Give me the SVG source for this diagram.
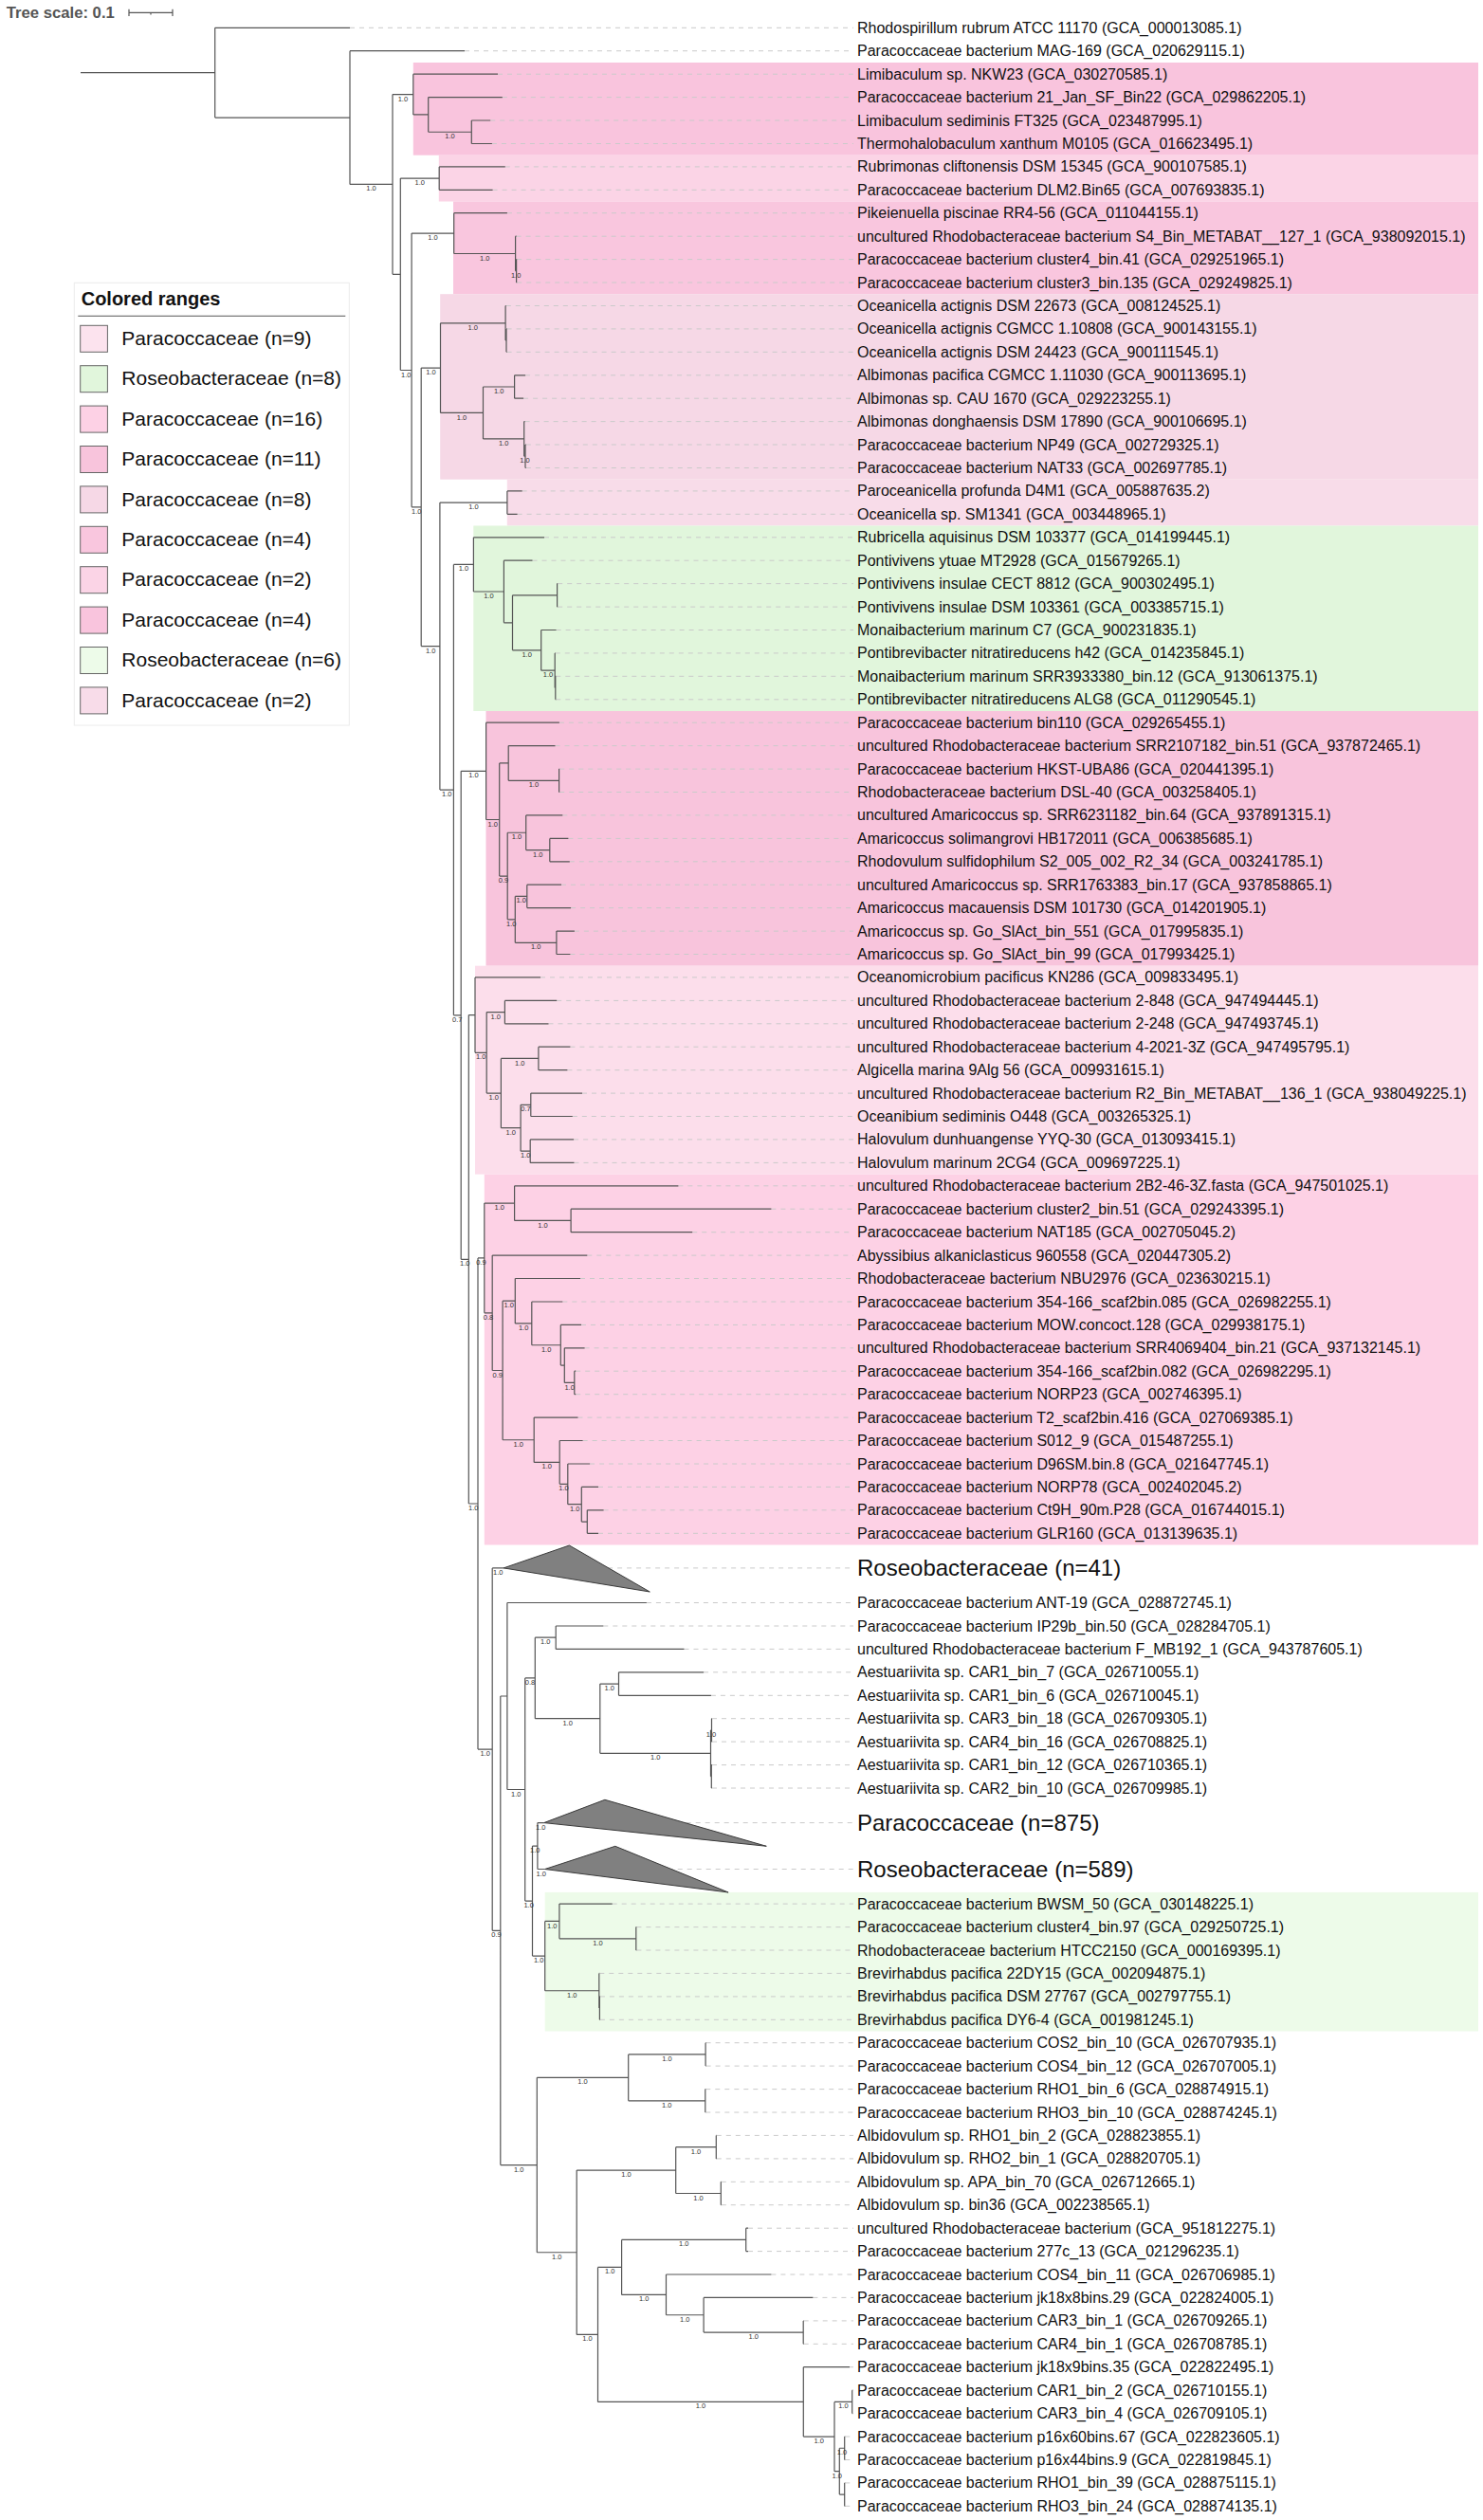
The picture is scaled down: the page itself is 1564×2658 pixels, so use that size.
<svg xmlns="http://www.w3.org/2000/svg" width="1564" height="2658" viewBox="0 0 1564 2658">
<style>
.br{fill:none;stroke:#555;stroke-width:1.2}
.dl{fill:none;stroke:#cacaca;stroke-width:1;stroke-dasharray:5 5}
.lf{font-family:"Liberation Sans",Arial,sans-serif;font-size:16px;fill:#111}
.cl{font-family:"Liberation Sans",Arial,sans-serif;font-size:24px;fill:#111}
.bs{font-family:"Liberation Sans",Arial,sans-serif;font-size:7.5px;fill:#333;text-anchor:middle}
.tri{fill:#808080;stroke:#3a3a3a;stroke-width:1}
.lg{font-family:"Liberation Sans",Arial,sans-serif;font-size:21px;fill:#111}
.sw{stroke:#666;stroke-width:1}
</style>
<rect width="1564" height="2658" fill="#fff"/>
<g id="ranges">
<rect x="435.8" y="66" width="1123.2" height="97.7" fill="#f9c4dd"/>
<rect x="462.8" y="163.7" width="1096.2" height="48.8" fill="#fbd4e6"/>
<rect x="478" y="212.5" width="1081" height="97.7" fill="#f9c6de"/>
<rect x="464.2" y="310.2" width="1094.8" height="195.5" fill="#f6d8e6"/>
<rect x="534.8" y="505.7" width="1024.2" height="48.8" fill="#f8dce9"/>
<rect x="499.3" y="554.5" width="1059.7" height="195.5" fill="#e1f6dc"/>
<rect x="512.5" y="750" width="1046.5" height="268.7" fill="#f8c4dc"/>
<rect x="501" y="1018.7" width="1058" height="219.9" fill="#fcdeeb"/>
<rect x="510.8" y="1238.6" width="1048.2" height="390.9" fill="#fdd1e5"/>
<rect x="574.7" y="1995.9" width="984.3" height="146.6" fill="#edfbe9"/>
</g>
<g id="tree-scale">
<text x="6.7" y="18.5" style="font-family:'Liberation Sans',Arial,sans-serif;font-size:16.7px;font-weight:bold;fill:#555">Tree scale: 0.1</text>
<path d="M136 13.3H182M136 9.7V17M182 9.7V17M159 13.3V15.5" fill="none" stroke="#555" stroke-width="1.2"/>
</g>
<g id="connectors">
<path class="dl" d="M369 29.3H900M490 53.7H900M525 78.2H900M529.8 102.6H900M517.2 127H900M518.9 151.5H900M532.8 175.9H900M519.6 200.3H900M534.9 224.7H900M544.6 249.2H900M545.2 273.6H900M545.2 298H900M533.8 322.5H900M534.6 346.9H900M534.6 371.3H900M554.1 395.8H900M552.1 420.2H900M553.6 444.6H900M554.8 469H900M554.8 493.5H900M550.7 517.9H900M545.6 542.3H900M574 566.8H900M561.5 591.2H900M588.2 615.6H900M588.2 640.1H900M586.6 664.5H900M585.8 688.9H900M586.3 713.3H900M586.3 737.8H900M589.9 762.2H900M585.5 786.6H900M590.2 811.1H900M590.2 835.5H900M593.3 859.9H900M599.4 884.4H900M600.8 908.8H900M592 933.2H900M602.1 957.6H900M605.9 982.1H900M601.4 1006.5H900M570 1030.9H900M587.2 1055.4H900M578.5 1079.8H900M601.4 1104.2H900M598.4 1128.7H900M614 1153.1H900M603.8 1177.5H900M605.1 1201.9H900M605.5 1226.4H900M715.4 1250.8H900M813.4 1275.2H900M730.2 1299.7H900M619.3 1324.1H900M612 1348.5H900M593.3 1373H900M613 1397.4H900M616.6 1421.8H900M607.2 1446.2H900M607.2 1470.7H900M609.5 1495.1H900M614.6 1519.5H900M622.1 1544H900M631 1568.4H900M636.6 1592.8H900M631 1617.3H900M531.1 1653.9H900M681.9 1690.5H900M636.3 1715H900M721.5 1739.4H900M742.1 1763.8H900M749.9 1788.3H900M751 1812.7H900M751 1837.1H900M751 1861.6H900M751 1886H900M573.7 1922.6H900M574.7 1971.5H900M645.7 2008.1H900M671.4 2032.6H900M671.4 2057H900M632.3 2081.4H900M632.9 2105.9H900M632.9 2130.3H900M744.6 2154.7H900M744.6 2179.1H900M744.3 2203.6H900M744.3 2228H900M755.8 2252.4H900M755.8 2276.9H900M760.8 2301.3H900M760.8 2325.7H900M789 2350.2H900M789 2374.6H900M813.4 2399H900M857.4 2423.4H900M847.7 2447.9H900M847.7 2472.3H900M896 2496.7H900M899.3 2521.2H900M899.3 2545.6H900M891.3 2570H900M891.3 2594.5H900M891.3 2618.9H900M891.3 2643.3H900"/>
<path class="br" d="M85 76.7H226.7M226.7 29.3V124.05M226.7 29.3H369M226.7 124.05H369
M369 53.7V194.4M369 53.7H490M369 194.4H414
M414 99.55V289.3M414 99.55H435.8M414 289.3H422.3
M435.8 78.2V120.9M435.8 78.2H525M435.8 120.9H451.7
M451.7 102.6V139.25M451.7 102.6H529.8M451.7 139.25H497.3
M497.3 127V151.5M497.3 127H517.2M497.3 151.5H518.9
M422.3 188.1V390.5M422.3 188.1H463.2M422.3 390.5H434.1
M463.2 175.9V200.3M463.2 175.9H532.8M463.2 200.3H519.6
M434.1 246.1V534.85M434.1 246.1H478.7M434.1 534.85H444.2
M478.7 224.7V267.5M478.7 224.7H534.9M478.7 267.5H543.6
M543.6 249.2V285.8M543.6 249.2H544.6M543.6 285.8H544.6
M544.6 273.6V298M544.6 273.6H545.2M544.6 298H545.2
M444.2 388.1V681.6M444.2 388.1H464.5M444.2 681.6H463.9
M464.5 340.8V435.45M464.5 340.8H533.1M464.5 435.45H509.5
M533.1 322.5V359.1M533.1 322.5H533.8M533.1 359.1H534
M534 346.9V371.3M534 346.9H534.6M534 371.3H534.6
M509.5 408V462.9M509.5 408H542.6M509.5 462.9H552.7
M542.6 395.8V420.2M542.6 395.8H554.1M542.6 420.2H552.1
M552.7 444.6V481.25M552.7 444.6H553.6M552.7 481.25H554
M554 469V493.5M554 469H554.8M554 493.5H554.8
M463.9 530.1V833.1M463.9 530.1H534.9M463.9 833.1H478.4
M534.9 517.9V542.3M534.9 517.9H550.7M534.9 542.3H545.6
M478.4 595.4V1070.8M478.4 595.4H499.4M478.4 1070.8H486.2
M499.4 566.8V624M499.4 566.8H574M499.4 624H531.4
M531.4 591.2V656.85M531.4 591.2H561.5M531.4 656.85H540.5
M540.5 627.85V685.85M540.5 627.85H587.6M540.5 685.85H570.7
M587.6 615.6V640.1M587.6 615.6H588.2M587.6 640.1H588.2
M570.7 664.5V707.2M570.7 664.5H586.6M570.7 707.2H585.2
M585.2 688.9V725.55M585.2 688.9H585.8M585.2 725.55H585.8
M585.8 713.3V737.8M585.8 713.3H586.3M585.8 737.8H586.3
M486.2 813.35V1328.3M486.2 813.35H512.6M486.2 1328.3H494.3
M512.6 762.2V864.5M512.6 762.2H589.9M512.6 864.5H526.7
M526.7 804.95V924.05M526.7 804.95H536.2M526.7 924.05H535.2
M536.2 786.6V823.3M536.2 786.6H585.5M536.2 823.3H589.6
M589.6 811.1V835.5M589.6 811.1H590.2M589.6 835.5H590.2
M535.2 878.25V969.85M535.2 878.25H554.7M535.2 969.85H543.3
M554.7 859.9V896.6M554.7 859.9H593.3M554.7 896.6H579.8
M579.8 884.4V908.8M579.8 884.4H599.4M579.8 908.8H600.8
M543.3 945.4V994.3M543.3 945.4H555.8M543.3 994.3H586.9
M555.8 933.2V957.6M555.8 933.2H592M555.8 957.6H602.1
M586.9 982.1V1006.5M586.9 982.1H605.9M586.9 1006.5H601.4
M494.3 1070.6V1586M494.3 1070.6H501M494.3 1586H504
M501 1030.9V1110.35M501 1030.9H570M501 1110.35H513.2
M513.2 1067.6V1153.1M513.2 1067.6H532.4M513.2 1153.1H528.4
M532.4 1055.4V1079.8M532.4 1055.4H587.2M532.4 1079.8H578.5
M528.4 1116.45V1189.7M528.4 1116.45H567.9M528.4 1189.7H549.1
M567.9 1104.2V1128.7M567.9 1104.2H601.4M567.9 1128.7H598.4
M549.1 1165.3V1214.15M549.1 1165.3H559.8M549.1 1214.15H559.2
M559.8 1153.1V1177.5M559.8 1153.1H614M559.8 1177.5H603.8
M559.2 1201.9V1226.4M559.2 1201.9H605.1M559.2 1226.4H605.5
M504 1326.95V1845.1M504 1326.95H510.8M504 1845.1H519.2
M510.8 1269.1V1384.8M510.8 1269.1H542.6M510.8 1384.8H519.2
M542.6 1250.8V1287.45M542.6 1250.8H715.4M542.6 1287.45H602.1
M602.1 1275.2V1299.7M602.1 1275.2H813.4M602.1 1299.7H730.2
M519.2 1324.1V1445.5M519.2 1324.1H619.3M519.2 1445.5H530.1
M530.1 1372.2V1518.75M530.1 1372.2H543.3M530.1 1518.75H563.2
M543.3 1348.5V1395.9M543.3 1348.5H612M543.3 1395.9H560.8
M560.8 1373V1418.75M560.8 1373H593.3M560.8 1418.75H591.3
M591.3 1397.4V1440.1M591.3 1397.4H613M591.3 1440.1H595.3
M595.3 1421.8V1458.45M595.3 1421.8H616.6M595.3 1458.45H605.8
M605.8 1446.2V1470.7M605.8 1446.2H607.2M605.8 1470.7H607.2
M563.2 1495.1V1542.4M563.2 1495.1H609.5M563.2 1542.4H590.2
M590.2 1519.5V1565.35M590.2 1519.5H614.6M590.2 1565.35H598.8
M598.8 1544V1586.7M598.8 1544H622.1M598.8 1586.7H613.3
M613.3 1568.4V1605.05M613.3 1568.4H631M613.3 1605.05H619.3
M619.3 1592.8V1617.3M619.3 1592.8H636.6M619.3 1617.3H631
M519.2 1653.9V2036.3M519.2 1653.9H531.1M519.2 2036.3H527.8
M527.8 1789V2283.55M527.8 1789H534.9M527.8 2283.55H566.3
M534.9 1690.5V1887.5M534.9 1690.5H681.9M534.9 1887.5H553.7
M553.7 1769.95V2005.1M553.7 1769.95H564.3M553.7 2005.1H561.5
M564.3 1727.2V1812.7M564.3 1727.2H586.2M564.3 1812.7H632.8
M586.2 1715V1739.4M586.2 1715H636.3M586.2 1739.4H721.5
M632.8 1776.05V1849.35M632.8 1776.05H652.5M632.8 1849.35H749.5
M652.5 1763.8V1788.3M652.5 1763.8H742.1M652.5 1788.3H749.9
M749.5 1824.9V1873.8M749.5 1824.9H750.5M749.5 1873.8H750.3
M750.5 1812.7V1837.1M750.5 1812.7H751M750.5 1837.1H751
M750.3 1861.6V1886M750.3 1861.6H751M750.3 1886H751
M561.5 1947.05V2063.1M561.5 1947.05H566.9M561.5 2063.1H574.7
M566.9 1922.6V1971.5M566.9 1922.6H573.7M566.9 1971.5H574.7
M574.7 2026.45V2099.75M574.7 2026.45H589.9M574.7 2099.75H631.8
M589.9 2008.1V2044.8M589.9 2008.1H645.7M589.9 2044.8H670.8
M670.8 2032.6V2057M670.8 2032.6H671.4M670.8 2057H671.4
M631.8 2081.4V2118.1M631.8 2081.4H632.3M631.8 2118.1H632.4
M632.4 2105.9V2130.3M632.4 2105.9H632.9M632.4 2130.3H632.9
M566.3 2191.35V2375.75M566.3 2191.35H662.7M566.3 2375.75H608.2
M662.7 2166.9V2215.8M662.7 2166.9H744.1M662.7 2215.8H743.8
M744.1 2154.7V2179.1M744.1 2154.7H744.6M744.1 2179.1H744.6
M743.8 2203.6V2228M743.8 2203.6H744.3M743.8 2228H744.3
M608.2 2289.1V2462.4M608.2 2289.1H712.7M608.2 2462.4H630.5
M712.7 2264.65V2313.5M712.7 2264.65H755.3M712.7 2313.5H760.3
M755.3 2252.4V2276.9M755.3 2252.4H755.8M755.3 2276.9H755.8
M760.3 2301.3V2325.7M760.3 2301.3H760.8M760.3 2325.7H760.8
M630.5 2391.4V2533.4M630.5 2391.4H655.6M630.5 2533.4H847.3
M655.6 2362.4V2420.4M655.6 2362.4H786.7M655.6 2420.4H702.5
M786.7 2350.2V2374.6M786.7 2350.2H789M786.7 2374.6H789
M702.5 2399V2441.75M702.5 2399H813.4M702.5 2441.75H742.1
M742.1 2423.4V2460.1M742.1 2423.4H857.4M742.1 2460.1H847.2
M847.2 2447.9V2472.3M847.2 2447.9H847.7M847.2 2472.3H847.7
M847.3 2496.7V2570.05M847.3 2496.7H896M847.3 2570.05H880
M880 2533.4V2606.7M880 2533.4H898.7M880 2606.7H885.3
M898.7 2521.2V2545.6M898.7 2521.2H899.3M898.7 2545.6H899.3
M885.3 2582.25V2631.1M885.3 2582.25H890.7M885.3 2631.1H890.7
M890.7 2570V2594.5M890.7 2570H891.3M890.7 2594.5H891.3
M890.7 2618.9V2643.3M890.7 2618.9H891.3M890.7 2643.3H891.3"/>
</g>
<g id="support-values">
<text class="bs" x="391.5" y="201.4">1.0</text><text class="bs" x="424.9" y="106.6">1.0</text><text class="bs" x="474.5" y="146.3">1.0</text><text class="bs" x="442.8" y="195.1">1.0</text><text class="bs" x="428.2" y="397.5">1.0</text><text class="bs" x="456.4" y="253.1">1.0</text><text class="bs" x="511.2" y="274.5">1.0</text><text class="bs" x="544.1" y="292.8">1.0</text><text class="bs" x="439.2" y="541.9">1.0</text><text class="bs" x="454.4" y="395.1">1.0</text><text class="bs" x="498.8" y="347.8">1.0</text><text class="bs" x="487" y="442.5">1.0</text><text class="bs" x="526.1" y="415">1.0</text><text class="bs" x="531.1" y="469.9">1.0</text><text class="bs" x="553.4" y="488.3">1.0</text><text class="bs" x="454.1" y="688.6">1.0</text><text class="bs" x="499.4" y="537.1">1.0</text><text class="bs" x="471.2" y="840.1">1.0</text><text class="bs" x="488.9" y="602.4">1.0</text><text class="bs" x="515.4" y="631">1.0</text><text class="bs" x="555.6" y="692.9">1.0</text><text class="bs" x="578" y="714.2">1.0</text><text class="bs" x="482.3" y="1077.8">0.7</text><text class="bs" x="499.4" y="820.4">1.0</text><text class="bs" x="519.7" y="871.5">1.0</text><text class="bs" x="562.9" y="830.3">1.0</text><text class="bs" x="531" y="931.1">0.9</text><text class="bs" x="545" y="885.3">1.0</text><text class="bs" x="567.3" y="903.6">1.0</text><text class="bs" x="539.3" y="976.9">1.0</text><text class="bs" x="549.6" y="952.4">1.0</text><text class="bs" x="565.1" y="1001.3">1.0</text><text class="bs" x="490.3" y="1335.3">1.0</text><text class="bs" x="507.1" y="1117.4">1.0</text><text class="bs" x="522.8" y="1074.6">1.0</text><text class="bs" x="520.8" y="1160.1">1.0</text><text class="bs" x="548.2" y="1123.5">1.0</text><text class="bs" x="538.8" y="1196.7">1.0</text><text class="bs" x="554.5" y="1172.3">0.7</text><text class="bs" x="554.2" y="1221.2">1.0</text><text class="bs" x="499.2" y="1593">1.0</text><text class="bs" x="507.4" y="1334">0.9</text><text class="bs" x="526.7" y="1276.1">1.0</text><text class="bs" x="572.4" y="1294.5">1.0</text><text class="bs" x="515" y="1391.8">0.8</text><text class="bs" x="524.7" y="1452.5">0.9</text><text class="bs" x="536.7" y="1379.2">1.0</text><text class="bs" x="552.1" y="1402.9">1.0</text><text class="bs" x="576.1" y="1425.8">1.0</text><text class="bs" x="600.6" y="1465.5">1.0</text><text class="bs" x="546.7" y="1525.8">1.0</text><text class="bs" x="576.7" y="1549.4">1.0</text><text class="bs" x="594.5" y="1572.4">1.0</text><text class="bs" x="606.1" y="1593.7">1.0</text><text class="bs" x="511.6" y="1852.1">1.0</text><text class="bs" x="525.2" y="1660.9">1.0</text><text class="bs" x="523.5" y="2043.3">0.9</text><text class="bs" x="544.3" y="1894.5">1.0</text><text class="bs" x="559" y="1777">0.8</text><text class="bs" x="575.3" y="1734.2">1.0</text><text class="bs" x="598.6" y="1819.7">1.0</text><text class="bs" x="642.7" y="1783.1">1.0</text><text class="bs" x="691.2" y="1856.4">1.0</text><text class="bs" x="750" y="1831.9">1.0</text><text class="bs" x="557.6" y="2012.1">1.0</text><text class="bs" x="564.2" y="1954.1">1.0</text><text class="bs" x="570.3" y="1929.6">1.0</text><text class="bs" x="570.8" y="1978.5">1.0</text><text class="bs" x="568.1" y="2070.1">1.0</text><text class="bs" x="582.3" y="2033.5">1.0</text><text class="bs" x="630.4" y="2051.8">1.0</text><text class="bs" x="603.3" y="2106.8">1.0</text><text class="bs" x="547.1" y="2290.6">1.0</text><text class="bs" x="614.5" y="2198.4">1.0</text><text class="bs" x="703.4" y="2173.9">1.0</text><text class="bs" x="703.3" y="2222.8">1.0</text><text class="bs" x="587.3" y="2382.8">1.0</text><text class="bs" x="660.5" y="2296.1">1.0</text><text class="bs" x="734" y="2271.7">1.0</text><text class="bs" x="736.5" y="2320.5">1.0</text><text class="bs" x="619.4" y="2469.4">1.0</text><text class="bs" x="643.1" y="2398.4">1.0</text><text class="bs" x="721.2" y="2369.4">1.0</text><text class="bs" x="679.1" y="2427.4">1.0</text><text class="bs" x="722.3" y="2448.8">1.0</text><text class="bs" x="794.7" y="2467.1">1.0</text><text class="bs" x="738.9" y="2540.4">1.0</text><text class="bs" x="863.7" y="2577.1">1.0</text><text class="bs" x="889.4" y="2540.4">1.0</text><text class="bs" x="882.7" y="2613.7">1.0</text><text class="bs" x="888" y="2589.3">1.0</text>
</g>
<g id="leaf-1"><text class="lf" x="904" y="34.8">Rhodospirillum rubrum ATCC 11170 (GCA_000013085.1)</text></g>
<g id="leaf-2"><text class="lf" x="904" y="59.2">Paracoccaceae bacterium MAG-169 (GCA_020629115.1)</text></g>
<g id="leaf-3"><text class="lf" x="904" y="83.7">Limibaculum sp. NKW23 (GCA_030270585.1)</text></g>
<g id="leaf-4"><text class="lf" x="904" y="108.1">Paracoccaceae bacterium 21_Jan_SF_Bin22 (GCA_029862205.1)</text></g>
<g id="leaf-5"><text class="lf" x="904" y="132.5">Limibaculum sediminis FT325 (GCA_023487995.1)</text></g>
<g id="leaf-6"><text class="lf" x="904" y="157">Thermohalobaculum xanthum M0105 (GCA_016623495.1)</text></g>
<g id="leaf-7"><text class="lf" x="904" y="181.4">Rubrimonas cliftonensis DSM 15345 (GCA_900107585.1)</text></g>
<g id="leaf-8"><text class="lf" x="904" y="205.8">Paracoccaceae bacterium DLM2.Bin65 (GCA_007693835.1)</text></g>
<g id="leaf-9"><text class="lf" x="904" y="230.2">Pikeienuella piscinae RR4-56 (GCA_011044155.1)</text></g>
<g id="leaf-10"><text class="lf" x="904" y="254.7">uncultured Rhodobacteraceae bacterium S4_Bin_METABAT__127_1 (GCA_938092015.1)</text></g>
<g id="leaf-11"><text class="lf" x="904" y="279.1">Paracoccaceae bacterium cluster4_bin.41 (GCA_029251965.1)</text></g>
<g id="leaf-12"><text class="lf" x="904" y="303.5">Paracoccaceae bacterium cluster3_bin.135 (GCA_029249825.1)</text></g>
<g id="leaf-13"><text class="lf" x="904" y="328">Oceanicella actignis DSM 22673 (GCA_008124525.1)</text></g>
<g id="leaf-14"><text class="lf" x="904" y="352.4">Oceanicella actignis CGMCC 1.10808 (GCA_900143155.1)</text></g>
<g id="leaf-15"><text class="lf" x="904" y="376.8">Oceanicella actignis DSM 24423 (GCA_900111545.1)</text></g>
<g id="leaf-16"><text class="lf" x="904" y="401.3">Albimonas pacifica CGMCC 1.11030 (GCA_900113695.1)</text></g>
<g id="leaf-17"><text class="lf" x="904" y="425.7">Albimonas sp. CAU 1670 (GCA_029223255.1)</text></g>
<g id="leaf-18"><text class="lf" x="904" y="450.1">Albimonas donghaensis DSM 17890 (GCA_900106695.1)</text></g>
<g id="leaf-19"><text class="lf" x="904" y="474.5">Paracoccaceae bacterium NP49 (GCA_002729325.1)</text></g>
<g id="leaf-20"><text class="lf" x="904" y="499">Paracoccaceae bacterium NAT33 (GCA_002697785.1)</text></g>
<g id="leaf-21"><text class="lf" x="904" y="523.4">Paroceanicella profunda D4M1 (GCA_005887635.2)</text></g>
<g id="leaf-22"><text class="lf" x="904" y="547.8">Oceanicella sp. SM1341 (GCA_003448965.1)</text></g>
<g id="leaf-23"><text class="lf" x="904" y="572.3">Rubricella aquisinus DSM 103377 (GCA_014199445.1)</text></g>
<g id="leaf-24"><text class="lf" x="904" y="596.7">Pontivivens ytuae MT2928 (GCA_015679265.1)</text></g>
<g id="leaf-25"><text class="lf" x="904" y="621.1">Pontivivens insulae CECT 8812 (GCA_900302495.1)</text></g>
<g id="leaf-26"><text class="lf" x="904" y="645.6">Pontivivens insulae DSM 103361 (GCA_003385715.1)</text></g>
<g id="leaf-27"><text class="lf" x="904" y="670">Monaibacterium marinum C7 (GCA_900231835.1)</text></g>
<g id="leaf-28"><text class="lf" x="904" y="694.4">Pontibrevibacter nitratireducens h42 (GCA_014235845.1)</text></g>
<g id="leaf-29"><text class="lf" x="904" y="718.8">Monaibacterium marinum SRR3933380_bin.12 (GCA_913061375.1)</text></g>
<g id="leaf-30"><text class="lf" x="904" y="743.3">Pontibrevibacter nitratireducens ALG8 (GCA_011290545.1)</text></g>
<g id="leaf-31"><text class="lf" x="904" y="767.7">Paracoccaceae bacterium bin110 (GCA_029265455.1)</text></g>
<g id="leaf-32"><text class="lf" x="904" y="792.1">uncultured Rhodobacteraceae bacterium SRR2107182_bin.51 (GCA_937872465.1)</text></g>
<g id="leaf-33"><text class="lf" x="904" y="816.6">Paracoccaceae bacterium HKST-UBA86 (GCA_020441395.1)</text></g>
<g id="leaf-34"><text class="lf" x="904" y="841">Rhodobacteraceae bacterium DSL-40 (GCA_003258405.1)</text></g>
<g id="leaf-35"><text class="lf" x="904" y="865.4">uncultured Amaricoccus sp. SRR6231182_bin.64 (GCA_937891315.1)</text></g>
<g id="leaf-36"><text class="lf" x="904" y="889.9">Amaricoccus solimangrovi HB172011 (GCA_006385685.1)</text></g>
<g id="leaf-37"><text class="lf" x="904" y="914.3">Rhodovulum sulfidophilum S2_005_002_R2_34 (GCA_003241785.1)</text></g>
<g id="leaf-38"><text class="lf" x="904" y="938.7">uncultured Amaricoccus sp. SRR1763383_bin.17 (GCA_937858865.1)</text></g>
<g id="leaf-39"><text class="lf" x="904" y="963.1">Amaricoccus macauensis DSM 101730 (GCA_014201905.1)</text></g>
<g id="leaf-40"><text class="lf" x="904" y="987.6">Amaricoccus sp. Go_SlAct_bin_551 (GCA_017995835.1)</text></g>
<g id="leaf-41"><text class="lf" x="904" y="1012">Amaricoccus sp. Go_SlAct_bin_99 (GCA_017993425.1)</text></g>
<g id="leaf-42"><text class="lf" x="904" y="1036.4">Oceanomicrobium pacificus KN286 (GCA_009833495.1)</text></g>
<g id="leaf-43"><text class="lf" x="904" y="1060.9">uncultured Rhodobacteraceae bacterium 2-848 (GCA_947494445.1)</text></g>
<g id="leaf-44"><text class="lf" x="904" y="1085.3">uncultured Rhodobacteraceae bacterium 2-248 (GCA_947493745.1)</text></g>
<g id="leaf-45"><text class="lf" x="904" y="1109.7">uncultured Rhodobacteraceae bacterium 4-2021-3Z (GCA_947495795.1)</text></g>
<g id="leaf-46"><text class="lf" x="904" y="1134.2">Algicella marina 9Alg 56 (GCA_009931615.1)</text></g>
<g id="leaf-47"><text class="lf" x="904" y="1158.6">uncultured Rhodobacteraceae bacterium R2_Bin_METABAT__136_1 (GCA_938049225.1)</text></g>
<g id="leaf-48"><text class="lf" x="904" y="1183">Oceanibium sediminis O448 (GCA_003265325.1)</text></g>
<g id="leaf-49"><text class="lf" x="904" y="1207.4">Halovulum dunhuangense YYQ-30 (GCA_013093415.1)</text></g>
<g id="leaf-50"><text class="lf" x="904" y="1231.9">Halovulum marinum 2CG4 (GCA_009697225.1)</text></g>
<g id="leaf-51"><text class="lf" x="904" y="1256.3">uncultured Rhodobacteraceae bacterium 2B2-46-3Z.fasta (GCA_947501025.1)</text></g>
<g id="leaf-52"><text class="lf" x="904" y="1280.7">Paracoccaceae bacterium cluster2_bin.51 (GCA_029243395.1)</text></g>
<g id="leaf-53"><text class="lf" x="904" y="1305.2">Paracoccaceae bacterium NAT185 (GCA_002705045.2)</text></g>
<g id="leaf-54"><text class="lf" x="904" y="1329.6">Abyssibius alkaniclasticus 960558 (GCA_020447305.2)</text></g>
<g id="leaf-55"><text class="lf" x="904" y="1354">Rhodobacteraceae bacterium NBU2976 (GCA_023630215.1)</text></g>
<g id="leaf-56"><text class="lf" x="904" y="1378.5">Paracoccaceae bacterium 354-166_scaf2bin.085 (GCA_026982255.1)</text></g>
<g id="leaf-57"><text class="lf" x="904" y="1402.9">Paracoccaceae bacterium MOW.concoct.128 (GCA_029938175.1)</text></g>
<g id="leaf-58"><text class="lf" x="904" y="1427.3">uncultured Rhodobacteraceae bacterium SRR4069404_bin.21 (GCA_937132145.1)</text></g>
<g id="leaf-59"><text class="lf" x="904" y="1451.7">Paracoccaceae bacterium 354-166_scaf2bin.082 (GCA_026982295.1)</text></g>
<g id="leaf-60"><text class="lf" x="904" y="1476.2">Paracoccaceae bacterium NORP23 (GCA_002746395.1)</text></g>
<g id="leaf-61"><text class="lf" x="904" y="1500.6">Paracoccaceae bacterium T2_scaf2bin.416 (GCA_027069385.1)</text></g>
<g id="leaf-62"><text class="lf" x="904" y="1525">Paracoccaceae bacterium S012_9 (GCA_015487255.1)</text></g>
<g id="leaf-63"><text class="lf" x="904" y="1549.5">Paracoccaceae bacterium D96SM.bin.8 (GCA_021647745.1)</text></g>
<g id="leaf-64"><text class="lf" x="904" y="1573.9">Paracoccaceae bacterium NORP78 (GCA_002402045.2)</text></g>
<g id="leaf-65"><text class="lf" x="904" y="1598.3">Paracoccaceae bacterium Ct9H_90m.P28 (GCA_016744015.1)</text></g>
<g id="leaf-66"><text class="lf" x="904" y="1622.8">Paracoccaceae bacterium GLR160 (GCA_013139635.1)</text></g>
<g id="collapsed-roseo41"><polygon class="tri" points="531.1,1653.9 600.4,1630 685.3,1679"/><text class="cl" x="904" y="1661.9">Roseobacteraceae (n=41)</text></g>
<g id="leaf-68"><text class="lf" x="904" y="1696">Paracoccaceae bacterium ANT-19 (GCA_028872745.1)</text></g>
<g id="leaf-69"><text class="lf" x="904" y="1720.5">Paracoccaceae bacterium IP29b_bin.50 (GCA_028284705.1)</text></g>
<g id="leaf-70"><text class="lf" x="904" y="1744.9">uncultured Rhodobacteraceae bacterium F_MB192_1 (GCA_943787605.1)</text></g>
<g id="leaf-71"><text class="lf" x="904" y="1769.3">Aestuariivita sp. CAR1_bin_7 (GCA_026710055.1)</text></g>
<g id="leaf-72"><text class="lf" x="904" y="1793.8">Aestuariivita sp. CAR1_bin_6 (GCA_026710045.1)</text></g>
<g id="leaf-73"><text class="lf" x="904" y="1818.2">Aestuariivita sp. CAR3_bin_18 (GCA_026709305.1)</text></g>
<g id="leaf-74"><text class="lf" x="904" y="1842.6">Aestuariivita sp. CAR4_bin_16 (GCA_026708825.1)</text></g>
<g id="leaf-75"><text class="lf" x="904" y="1867.1">Aestuariivita sp. CAR1_bin_12 (GCA_026710365.1)</text></g>
<g id="leaf-76"><text class="lf" x="904" y="1891.5">Aestuariivita sp. CAR2_bin_10 (GCA_026709985.1)</text></g>
<g id="collapsed-para875"><polygon class="tri" points="573.7,1922.6 637.9,1898.3 808.3,1947.3"/><text class="cl" x="904" y="1930.6">Paracoccaceae (n=875)</text></g>
<g id="collapsed-roseo589"><polygon class="tri" points="574.7,1971.5 648.8,1947.3 768.1,1996"/><text class="cl" x="904" y="1979.5">Roseobacteraceae (n=589)</text></g>
<g id="leaf-79"><text class="lf" x="904" y="2013.6">Paracoccaceae bacterium BWSM_50 (GCA_030148225.1)</text></g>
<g id="leaf-80"><text class="lf" x="904" y="2038.1">Paracoccaceae bacterium cluster4_bin.97 (GCA_029250725.1)</text></g>
<g id="leaf-81"><text class="lf" x="904" y="2062.5">Rhodobacteraceae bacterium HTCC2150 (GCA_000169395.1)</text></g>
<g id="leaf-82"><text class="lf" x="904" y="2086.9">Brevirhabdus pacifica 22DY15 (GCA_002094875.1)</text></g>
<g id="leaf-83"><text class="lf" x="904" y="2111.4">Brevirhabdus pacifica DSM 27767 (GCA_002797755.1)</text></g>
<g id="leaf-84"><text class="lf" x="904" y="2135.8">Brevirhabdus pacifica DY6-4 (GCA_001981245.1)</text></g>
<g id="leaf-85"><text class="lf" x="904" y="2160.2">Paracoccaceae bacterium COS2_bin_10 (GCA_026707935.1)</text></g>
<g id="leaf-86"><text class="lf" x="904" y="2184.6">Paracoccaceae bacterium COS4_bin_12 (GCA_026707005.1)</text></g>
<g id="leaf-87"><text class="lf" x="904" y="2209.1">Paracoccaceae bacterium RHO1_bin_6 (GCA_028874915.1)</text></g>
<g id="leaf-88"><text class="lf" x="904" y="2233.5">Paracoccaceae bacterium RHO3_bin_10 (GCA_028874245.1)</text></g>
<g id="leaf-89"><text class="lf" x="904" y="2257.9">Albidovulum sp. RHO1_bin_2 (GCA_028823855.1)</text></g>
<g id="leaf-90"><text class="lf" x="904" y="2282.4">Albidovulum sp. RHO2_bin_1 (GCA_028820705.1)</text></g>
<g id="leaf-91"><text class="lf" x="904" y="2306.8">Albidovulum sp. APA_bin_70 (GCA_026712665.1)</text></g>
<g id="leaf-92"><text class="lf" x="904" y="2331.2">Albidovulum sp. bin36 (GCA_002238565.1)</text></g>
<g id="leaf-93"><text class="lf" x="904" y="2355.7">uncultured Rhodobacteraceae bacterium (GCA_951812275.1)</text></g>
<g id="leaf-94"><text class="lf" x="904" y="2380.1">Paracoccaceae bacterium 277c_13 (GCA_021296235.1)</text></g>
<g id="leaf-95"><text class="lf" x="904" y="2404.5">Paracoccaceae bacterium COS4_bin_11 (GCA_026706985.1)</text></g>
<g id="leaf-96"><text class="lf" x="904" y="2428.9">Paracoccaceae bacterium jk18x8bins.29 (GCA_022824005.1)</text></g>
<g id="leaf-97"><text class="lf" x="904" y="2453.4">Paracoccaceae bacterium CAR3_bin_1 (GCA_026709265.1)</text></g>
<g id="leaf-98"><text class="lf" x="904" y="2477.8">Paracoccaceae bacterium CAR4_bin_1 (GCA_026708785.1)</text></g>
<g id="leaf-99"><text class="lf" x="904" y="2502.2">Paracoccaceae bacterium jk18x9bins.35 (GCA_022822495.1)</text></g>
<g id="leaf-100"><text class="lf" x="904" y="2526.7">Paracoccaceae bacterium CAR1_bin_2 (GCA_026710155.1)</text></g>
<g id="leaf-101"><text class="lf" x="904" y="2551.1">Paracoccaceae bacterium CAR3_bin_4 (GCA_026709105.1)</text></g>
<g id="leaf-102"><text class="lf" x="904" y="2575.5">Paracoccaceae bacterium p16x60bins.67 (GCA_022823605.1)</text></g>
<g id="leaf-103"><text class="lf" x="904" y="2600">Paracoccaceae bacterium p16x44bins.9 (GCA_022819845.1)</text></g>
<g id="leaf-104"><text class="lf" x="904" y="2624.4">Paracoccaceae bacterium RHO1_bin_39 (GCA_028875115.1)</text></g>
<g id="leaf-105"><text class="lf" x="904" y="2648.8">Paracoccaceae bacterium RHO3_bin_24 (GCA_028874135.1)</text></g>
<g id="legend">
<rect x="78.3" y="298.3" width="290" height="466.7" fill="#fff" stroke="#ececec" stroke-width="1"/>
<text x="85.7" y="321.5" style="font-family:'Liberation Sans',Arial,sans-serif;font-size:20px;font-weight:bold;fill:#111">Colored ranges</text>
<path d="M82.3 333.3H364.3" stroke="#777" stroke-width="1.2"/>
<rect class="sw" x="84.7" y="343.3" width="28.7" height="28" fill="#fce3ee"/><text class="lg" x="128.3" y="364">Paracoccaceae (n=9)</text>
<rect class="sw" x="84.7" y="385.7" width="28.7" height="28" fill="#e1f6dc"/><text class="lg" x="128.3" y="406.4">Roseobacteraceae (n=8)</text>
<rect class="sw" x="84.7" y="428.1" width="28.7" height="28" fill="#fdd1e5"/><text class="lg" x="128.3" y="448.8">Paracoccaceae (n=16)</text>
<rect class="sw" x="84.7" y="470.5" width="28.7" height="28" fill="#f8c4dc"/><text class="lg" x="128.3" y="491.2">Paracoccaceae (n=11)</text>
<rect class="sw" x="84.7" y="512.9" width="28.7" height="28" fill="#f6d8e6"/><text class="lg" x="128.3" y="533.6">Paracoccaceae (n=8)</text>
<rect class="sw" x="84.7" y="555.3" width="28.7" height="28" fill="#f9c6de"/><text class="lg" x="128.3" y="576">Paracoccaceae (n=4)</text>
<rect class="sw" x="84.7" y="597.7" width="28.7" height="28" fill="#fbd4e6"/><text class="lg" x="128.3" y="618.4">Paracoccaceae (n=2)</text>
<rect class="sw" x="84.7" y="640.1" width="28.7" height="28" fill="#f9c4dd"/><text class="lg" x="128.3" y="660.8">Paracoccaceae (n=4)</text>
<rect class="sw" x="84.7" y="682.5" width="28.7" height="28" fill="#edfbe9"/><text class="lg" x="128.3" y="703.2">Roseobacteraceae (n=6)</text>
<rect class="sw" x="84.7" y="724.9" width="28.7" height="28" fill="#f8dce9"/><text class="lg" x="128.3" y="745.6">Paracoccaceae (n=2)</text>
</g>
</svg>
